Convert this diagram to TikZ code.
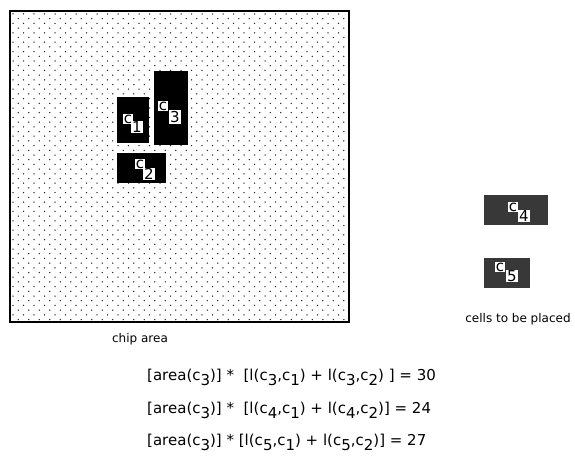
\documentclass[tikz,border=0pt]{standalone}
\usepackage{fontspec}
\setmainfont{DejaVu Sans}
\newcommand{\lo}[1]{\raisebox{-0.6ex}{#1}}
\tikzset{
  cellbox/.style={fill=black, draw=none, inner sep=0pt},
  sparecell/.style={fill=black!78, draw=none, inner sep=0pt},
  tagc/.style={fill=white, inner sep=0.9pt, font=\fontsize{15}{15}\selectfont},
  tagn/.style={fill=white, inner sep=0.9pt, font=\fontsize{15}{15}\selectfont},
  caption/.style={font=\fontsize{12}{14}\selectfont},
  formula/.style={font=\fontsize{15}{17}\selectfont, anchor=west, inner sep=0pt}
}
\begin{document}
\begin{tikzpicture}[x=1pt, y=-1pt]
    \useasboundingbox (0,0) rectangle (575,460);

    % Chip area: dotted field with a heavy frame
    \coordinate (chipnw) at (10,11);
    \coordinate (chipse) at (349,322);
    \begin{scope}
      \clip (chipnw) rectangle (chipse);
      \foreach \row in {0,...,67} {
        \pgfmathsetmacro{\shift}{mod(\row,2)*5.25}
        \foreach \col in {0,...,32} {
          \fill[black!85] (13+\shift+\col*10.5, 14+\row*4.7) circle (0.75);
        }
      }
    \end{scope}
    \draw[line width=1.6pt] (chipnw) rectangle (chipse);

    % Cells already placed
    \node[cellbox, minimum width=32pt, minimum height=46pt] (c1) at (133,120) {};
    \node[cellbox, minimum width=34pt, minimum height=74pt] (c3) at (171,108) {};
    \node[cellbox, minimum width=49pt, minimum height=30pt] (c2) at (141.5,168) {};

    % Tags of the placed cells
    \node[tagc] (c1c) at (128,119) {c};
    \node[tagn] (c1n) at (137,127) {1};
    \node[tagc] (c3c) at (163,106) {c};
    \node[tagn] (c3n) at (175,117) {3};
    \node[tagc] (c2c) at (140,164) {c};
    \node[tagn] (c2n) at (149,174) {2};

    % Cells still to be placed
    \node[sparecell, minimum width=64pt, minimum height=30pt] (c4) at (516,210) {};
    \node[sparecell, minimum width=46pt, minimum height=30pt] (c5) at (507,273) {};
    \node[tagc] (c4c) at (513,207) {c};
    \node[tagn] (c4n) at (524,216) {4};
    \node[tagc] (c5c) at (500,267) {c};
    \node[tagn] (c5n) at (512,276) {5};

    % Captions
    \node[caption] (chiplbl) at (140,339) {chip area};
    \node[caption] (sparelbl) at (518,319) {cells to be placed};

    % Cost of each candidate
    \node[formula] (eq1) at (147,377) {[area(c\lo{3})] * \ [l(c\lo{3},c\lo{1}) + l(c\lo{3},c\lo{2}) ] = 30};
    \node[formula] (eq2) at (147,410) {[area(c\lo{3})] * \ [l(c\lo{4},c\lo{1}) + l(c\lo{4},c\lo{2})] = 24};
    \node[formula] (eq3) at (147,442) {[area(c\lo{3})] * [l(c\lo{5},c\lo{1}) + l(c\lo{5},c\lo{2})] = 27};
\end{tikzpicture}
\end{document}
